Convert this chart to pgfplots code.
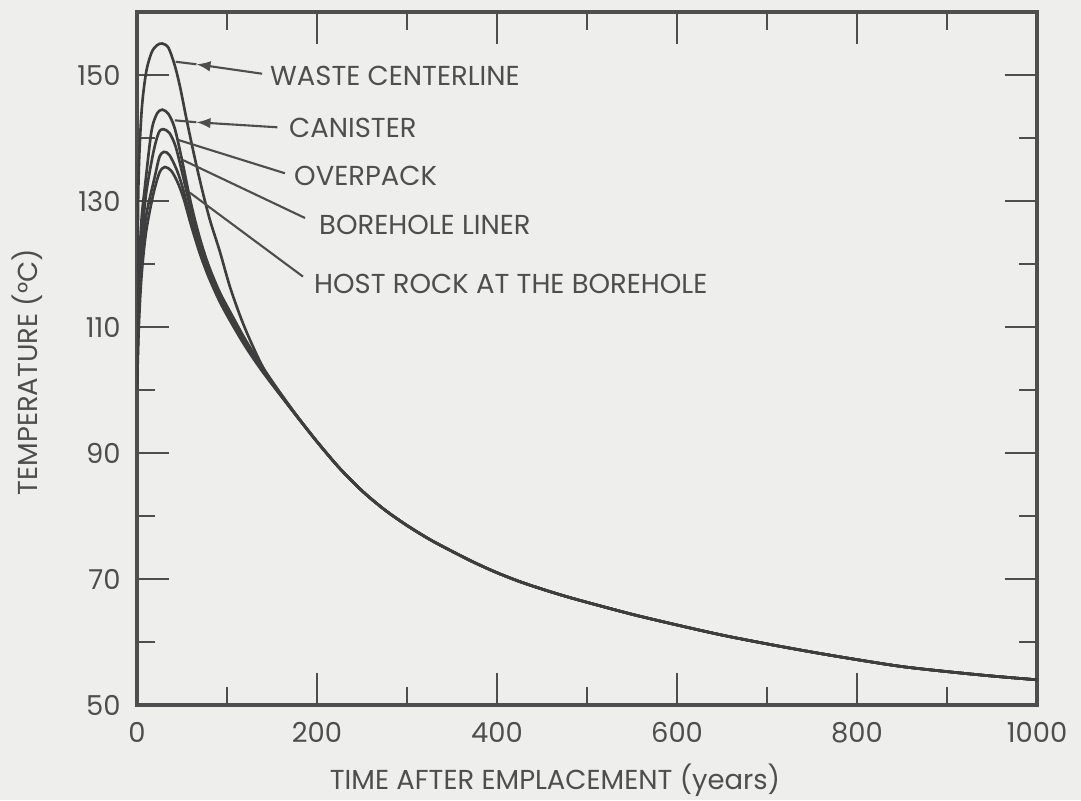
\documentclass[border=0pt]{standalone}
\usepackage{pgfplots}
\pgfplotsset{compat=1.18}
\usepackage{fontspec}
\setmainfont{Poppins}
\usetikzlibrary{arrows.meta}
\definecolor{paper}{RGB}{238,238,236}
\definecolor{ink}{RGB}{78,78,78}
\definecolor{curve}{RGB}{62,62,62}

\newcommand{\lblfont}{\fontsize{7.8}{9}\selectfont}
\pgfplotsset{tcurve/.style={curve, line width=0.75pt, no markers, smooth, tension=0.5}}

\begin{document}
\begin{tikzpicture}[x=1cm,y=1cm]
\fill[paper] (0,0) rectangle (10.81,8);
\useasboundingbox (0,0) rectangle (10.81,8);
\begin{axis}[
  at={(1.37cm,0.95cm)}, anchor=south west,
  scale only axis, width=9cm, height=6.93cm,
  xmin=0, xmax=1000, ymin=50, ymax=160,
  xtick={0,200,...,1000}, ytick={50,70,...,150},
  minor x tick num=1, minor y tick num=1,
  major tick length=0.32cm, minor tick length=0.18cm,
  tick align=inside,
  xtick pos=both, ytick pos=both,
  xticklabel pos=lower, yticklabel pos=left,
  /pgf/number format/assume math mode=true,
  /pgf/number format/1000 sep={},
  ticklabel style={font=\lblfont, text=ink},
  xticklabel style={yshift=-0.05cm},
  yticklabel style={xshift=-0.04cm},
  axis line style={ink, line width=0.9pt},
  every tick/.style={ink, line width=0.8pt},
]
% waste centerline
\addplot[tcurve] coordinates {
 (0,108) (1.5,132) (5,144) (10,150.3) (16,153.5) (22,154.7) (28,155.0)
 (35,154.3) (42,151.5) (48,148) (55,143) (63,137.6) (72,132) (81,127)
 (92,122) (103,116.5) (115,111.6) (126,107.8) (140,103.6) (155,100.3)
 (175,96.4) (200,91.8) (225,87.6) (250,84.0) (275,81.0) (300,78.5)
 (325,76.3) (350,74.4) (375,72.6) (400,71.0) (425,69.6) (450,68.4)
 (475,67.3) (500,66.3) (550,64.4) (600,62.7)
 (650,61.1) (700,59.7) (750,58.4) (800,57.2) (850,56.1) (900,55.3)
 (950,54.6) (1000,54.0)
};
% canister
\addplot[tcurve] coordinates {
 (0,104) (2,118) (5,127) (9,132.5) (16,141) (22,143.8) (28,144.5)
 (35,143.8) (42,141.5) (50,136.5) (60,129.6) (70,124.0) (80,119.6)
 (92,115.5) (105,112.0) (120,108.1) (135,104.6) (150,101.4) (175,96.4)
 (200,91.8) (225,87.6) (250,84.0) (275,81.0) (300,78.5)
 (325,76.3) (350,74.4) (375,72.6) (400,71.0) (425,69.6) (450,68.4)
 (475,67.3) (500,66.3) (550,64.4) (600,62.7)
 (650,61.1) (700,59.7) (750,58.4) (800,57.2) (850,56.1) (900,55.3)
 (950,54.6) (1000,54.0)
};
% overpack
\addplot[tcurve] coordinates {
 (0,102) (2,114) (5,123) (10,131) (18,137.6) (24,140.8) (29,141.4)
 (36,140.8) (43,138.6) (51,134) (60,128.5) (70,122.8) (80,118.7)
 (92,114.8) (105,111.4) (120,107.6) (135,104.2) (150,101.1) (175,96.3)
 (200,91.8) (225,87.6) (250,84.0) (275,81.0) (300,78.5)
 (325,76.3) (350,74.4) (375,72.6) (400,71.0) (425,69.6) (450,68.4)
 (475,67.3) (500,66.3) (550,64.4) (600,62.7)
 (650,61.1) (700,59.7) (750,58.4) (800,57.2) (850,56.1) (900,55.3)
 (950,54.6) (1000,54.0)
};
% borehole liner
\addplot[tcurve] coordinates {
 (0,101) (2,112) (5,120) (10,127.5) (20,134) (25,137) (30,137.8)
 (36,137.3) (44,135) (51,132) (60,127) (70,122.0) (80,118.2)
 (92,114.4) (105,111.0) (120,107.3) (135,104.0) (150,101.0) (175,96.3)
 (200,91.8) (225,87.6) (250,84.0) (275,81.0) (300,78.5)
 (325,76.3) (350,74.4) (375,72.6) (400,71.0) (425,69.6) (450,68.4)
 (475,67.3) (500,66.3) (550,64.4) (600,62.7)
 (650,61.1) (700,59.7) (750,58.4) (800,57.2) (850,56.1) (900,55.3)
 (950,54.6) (1000,54.0)
};
% host rock at the borehole
\addplot[tcurve] coordinates {
 (0,100) (2,110) (5,118) (10,125) (18,131) (25,134.5) (31,135.4)
 (38,134.8) (45,133) (52,130.3) (60,126.2) (70,121.6) (80,117.8)
 (92,114.0) (105,110.6) (120,107.0) (135,103.8) (150,100.9) (175,96.3)
 (200,91.8) (225,87.6) (250,84.0) (275,81.0) (300,78.5)
 (325,76.3) (350,74.4) (375,72.6) (400,71.0) (425,69.6) (450,68.4)
 (475,67.3) (500,66.3) (550,64.4) (600,62.7)
 (650,61.1) (700,59.7) (750,58.4) (800,57.2) (850,56.1) (900,55.3)
 (950,54.6) (1000,54.0)
};

% leader lines to the curve names
\draw[ink, line width=0.6pt, -{Latex[length=4pt,width=3pt]}] (axis cs:139,150.2) -- (axis cs:66,151.7);
\draw[ink, line width=0.6pt] (axis cs:66,151.7) -- (axis cs:43,152.1);
\draw[ink, line width=0.6pt, -{Latex[length=4pt,width=3pt]}] (axis cs:156,141.7) -- (axis cs:66,142.5);
\draw[ink, line width=0.6pt] (axis cs:66,142.5) -- (axis cs:42,142.8);
\draw[ink, line width=0.6pt] (axis cs:45.6,139.7) -- (axis cs:164.4,134.4);
\draw[ink, line width=0.6pt] (axis cs:51,136.5) -- (axis cs:186.7,127.3);
\draw[ink, line width=0.6pt] (axis cs:58.9,131.3) -- (axis cs:184.4,118.0);

\node[anchor=west, font=\lblfont, text=ink, inner sep=1pt] at (axis cs:143.3,149.8) {WASTE CENTERLINE};
\node[anchor=west, font=\lblfont, text=ink, inner sep=1pt] at (axis cs:164.4,141.6) {CANISTER};
\node[anchor=west, font=\lblfont, text=ink, inner sep=1pt] at (axis cs:170,134.0) {OVERPACK};
\node[anchor=west, font=\lblfont, text=ink, inner sep=1pt] at (axis cs:197.8,126.2) {BOREHOLE LINER};
\node[anchor=west, font=\lblfont, text=ink, inner sep=1pt] at (axis cs:192.2,116.8) {HOST ROCK AT THE BOREHOLE};
\end{axis}

\node[font=\lblfont, text=ink] at (5.55,0.2) {TIME AFTER EMPLACEMENT (years)};
\node[font=\lblfont, text=ink, rotate=90] at (0.27,4.28) {TEMPERATURE (°C)};
\end{tikzpicture}
\end{document}
